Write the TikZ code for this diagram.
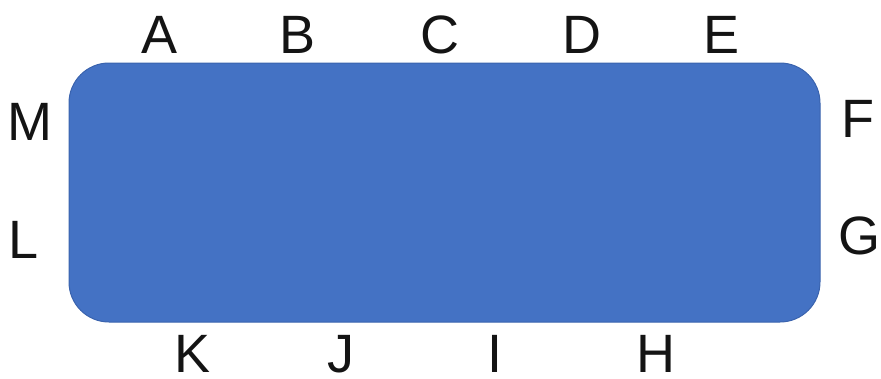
\documentclass[tikz,border=0pt]{standalone}
\usepackage{fontspec}
\setmainfont{Liberation Sans}
\definecolor{boxblue}{HTML}{4472C4}
\definecolor{boxedge}{HTML}{3A63AE}
\begin{document}
\begin{tikzpicture}[x=1pt,y=-1pt,
  lbl/.style={anchor=base,inner sep=0pt,text depth=0pt,font=\fontsize{54}{60}\selectfont,text=black!92},
  panel/.style={fill=boxblue,draw=boxedge,line width=1pt,rounded corners=40pt,inner sep=0pt,
    minimum width=751pt,minimum height=259pt}]
\useasboundingbox (0,0) rectangle (881,378);
\node[panel] (rect) at (444.5,192.5) {};
\node[lbl] (A) at (160,53) {A};
\node[lbl] (B) at (298,53) {B};
\node[lbl] (C) at (440,53) {C};
\node[lbl] (D) at (582,53) {D};
\node[lbl] (E) at (722,53) {E};
\node[lbl] (F) at (858,137) {F};
\node[lbl] (G) at (859,254) {G};
\node[lbl] (H) at (656,372) {H};
\node[lbl] (I) at (495,372) {I};
\node[lbl] (J) at (341,372) {J};
\node[lbl] (K) at (193,372) {K};
\node[lbl] (L) at (24,258) {L};
\node[lbl] (M) at (30,140) {M};
\end{tikzpicture}
\end{document}
